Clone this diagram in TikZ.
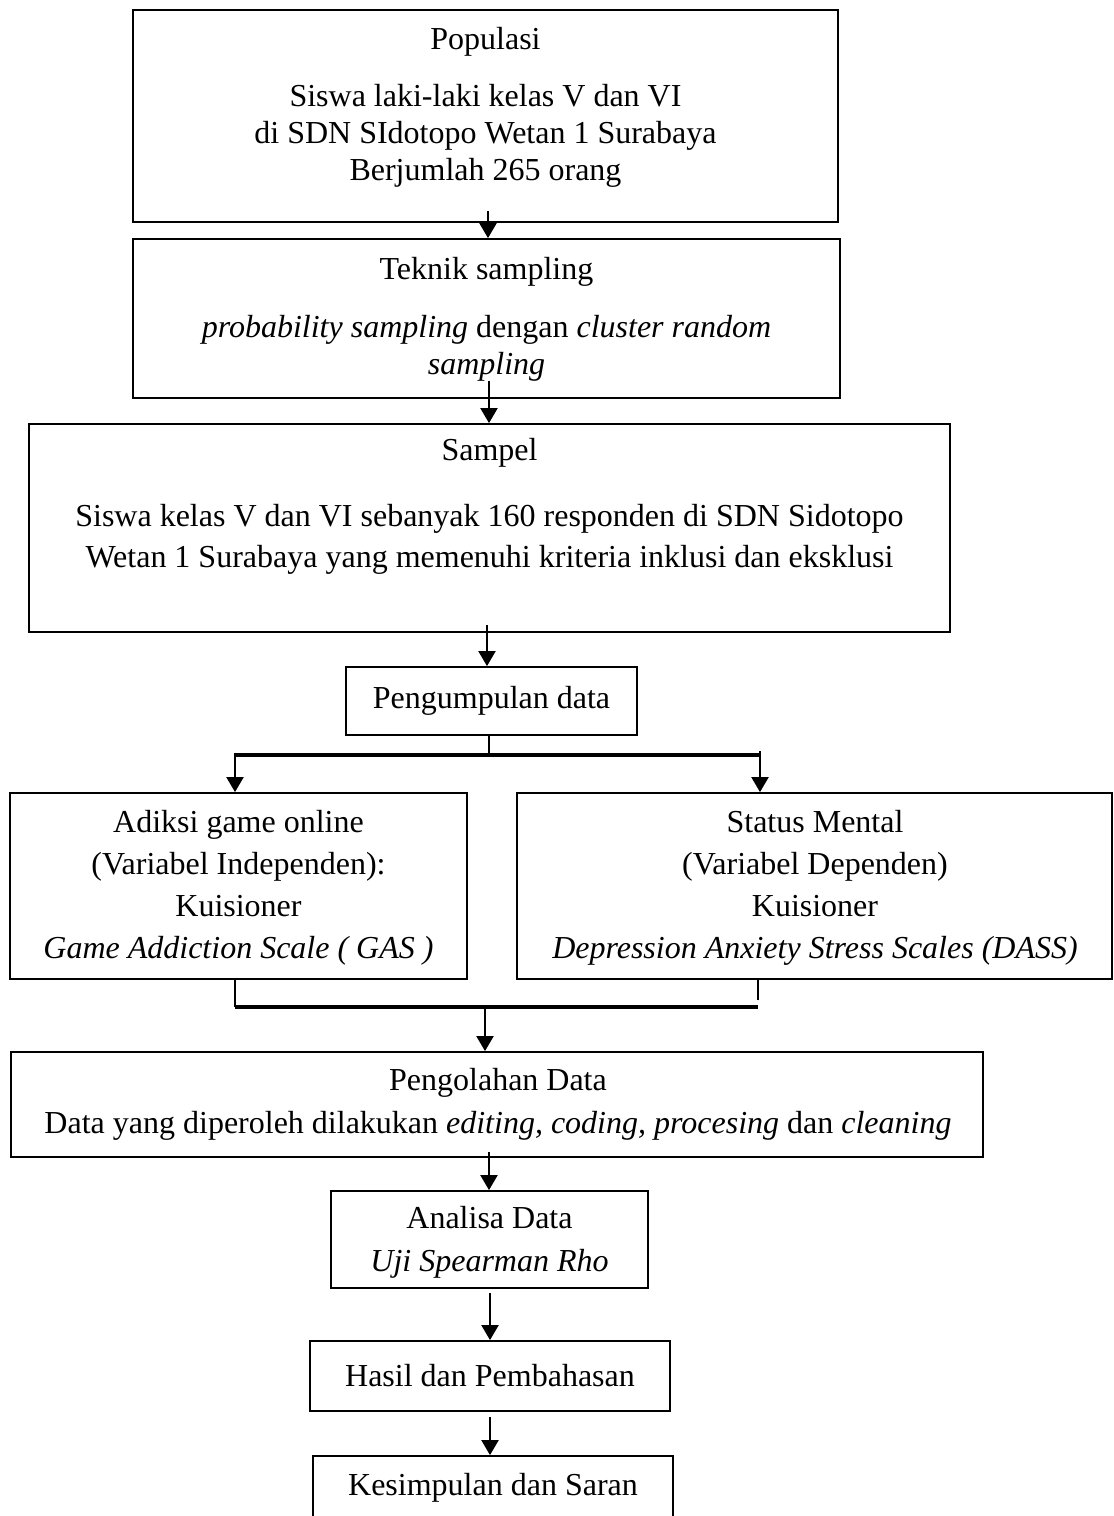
\documentclass[tikz,border=0pt]{standalone}
\usepackage{fontspec}
\setmainfont{Liberation Serif}
\usetikzlibrary{arrows.meta,calc}
\newcommand\flowbox[5]{\node[box, minimum width={#4-#2}, minimum height={#5-#3}] (#1) at ({(#2+#4)/2},{(#3+#5)/2}) {};}
\begin{document}
\begin{tikzpicture}[x=1pt,y=-1pt,
  box/.style={draw, line width=1.8pt, inner sep=0pt},
  txt/.style={align=center, inner sep=0pt, font=\fontsize{32}{37}\selectfont},
  txtb/.style={align=center, inner sep=0pt, font=\fontsize{32}{42}\selectfont},
  txtc/.style={align=center, inner sep=0pt, font=\fontsize{32}{43}\selectfont},
  arr/.style={line width=2pt, -{Triangle[width=17pt,length=15pt]}},
  bar/.style={line width=4.5pt},
  ln/.style={line width=2pt}]
\useasboundingbox (0,0) rectangle (1114,1516);

% boxes
\flowbox{pop}{133}{10}{838}{222}
\flowbox{tek}{133}{239}{840}{398}
\flowbox{sam}{29}{424}{950}{632}
\flowbox{peng}{346}{667}{637}{735}
\flowbox{adi}{10}{793}{467}{979}
\flowbox{sta}{517}{793}{1112}{979}
\flowbox{pol}{11}{1052}{983}{1157}
\flowbox{ana}{331}{1191}{648}{1288}
\flowbox{has}{310}{1341}{670}{1411}
\flowbox{kes}{313}{1456}{673}{1570}

% texts
\node[txt] (pop-t) at (485.5,42) {Populasi};
\node[txt] (pop-b) at (485.5,135.5) {Siswa laki-laki kelas V dan VI\\di SDN SIdotopo Wetan 1 Surabaya\\Berjumlah 265 orang};
\node[txt] (tek-t) at (486.5,272) {Teknik sampling};
\node[txt] (tek-b) at (486.5,348.5) {\textit{probability sampling} dengan \textit{cluster random}\\\textit{sampling}};
\node[txt] (sam-t) at (489.5,453) {Sampel};
\node[font=\fontsize{32}{41}\selectfont, align=center, inner sep=0pt] (sam-b) at (489.5,539.5) {Siswa kelas V dan VI sebanyak 160 responden di SDN Sidotopo\\Wetan 1 Surabaya yang memenuhi kriteria inklusi dan eksklusi};
\node[txt] (peng-t) at (491.5,701) {Pengumpulan data};
\node[txtb] (adi-t) at (238.5,888) {Adiksi game online\\(Variabel Independen):\\Kuisioner\\\textit{Game Addiction Scale ( GAS )}};
\node[txtb] (sta-t) at (815,888) {Status Mental\\(Variabel Dependen)\\Kuisioner\\\textit{Depression Anxiety Stress Scales (DASS)}};
\node[txtc] (pol-t) at (498,1104.5) {Pengolahan Data\\Data yang diperoleh dilakukan \textit{editing, coding, procesing} dan \textit{cleaning}};
\node[txtc] (ana-t) at (489.5,1242.5) {Analisa Data\\\textit{Uji Spearman Rho}};
\node[txt] (has-t) at (490,1376) {Hasil dan Pembahasan};
\node[txt] (kes-t) at (493,1488) {Kesimpulan dan Saran};

% straight arrows
\draw[arr] ($(pop.south)+(2.5,-12)$) -- ($(tek.north)+(1.5,0)$);
\draw[arr] ($(tek.south)+(2.5,-18)$) -- ($(sam.north)+(-0.5,0)$);
\draw[arr] ($(sam.south)+(-2.5,-8)$) -- ($(peng.north)+(-4.5,0)$);
\draw[arr] ($(pol.south)+(-8,-6)$) -- ($(ana.north)+(-0.5,0)$);
\draw[arr] ($(ana.south)+(0.5,4)$) -- ($(has.north)+(0,0)$);
\draw[arr] ($(has.south)+(0,5)$) -- ($(kes.north)+(-3,0)$);

% split
\coordinate (sL) at (235,755);
\coordinate (sR) at (760,755);
\coordinate (sM) at (489,755);
\draw[ln] (peng.south -| sM) -- (sM);
\draw[bar] (sL) -- (sR);
\draw[arr] ($(sL)+(0,-2)$) -- (sL |- adi.north);
\draw[arr] ($(sR)+(0,-4)$) -- (sR |- sta.north);

% merge
\coordinate (mL) at (235,1007);
\coordinate (mR) at (758,1007);
\coordinate (mM) at (485,1007);
\coordinate (mRt) at (758,1000);
\draw[ln] (adi.south -| mL) -- (mL);
\draw[ln] ($(sta.south -| mR)+(0,-2)$) -- (mRt);
\draw[bar] (mL) -- (mR);
\draw[arr] (mM) -- (mM |- pol.north);
\end{tikzpicture}
\end{document}
